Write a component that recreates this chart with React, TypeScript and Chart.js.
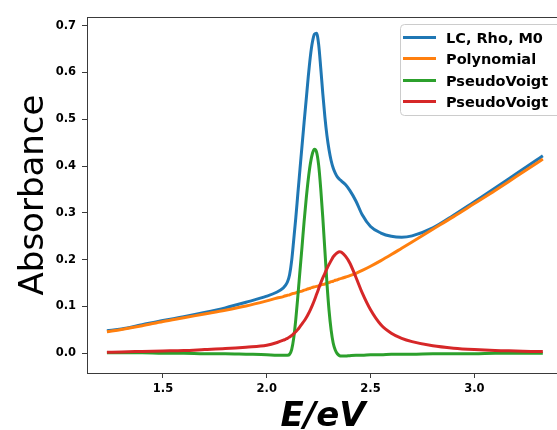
import { useEffect, useRef } from "react";
import { Chart, registerables } from "chart.js";
Chart.register(...registerables);

const energy = [1.23, 1.3, 1.4, 1.5, 1.6, 1.7, 1.8, 1.9, 2.0, 2.05, 2.08, 2.09,
  2.10, 2.11, 2.12, 2.13, 2.14, 2.15, 2.16, 2.17, 2.18, 2.19, 2.20, 2.21, 2.22, 2.23, 2.24, 2.25, 2.26, 2.27, 2.28, 2.29, 2.30, 2.31, 2.32, 2.33, 2.34, 2.35, 2.36,
  2.38, 2.40, 2.43, 2.46, 2.50, 2.55, 2.60, 2.65, 2.70,
  2.80, 2.90, 3.0, 3.1, 3.2, 3.3, 3.33];

const totalFit = [0.048, 0.052, 0.061, 0.070, 0.078, 0.087, 0.097, 0.109, 0.122, 0.131, 0.140, 0.145,
  0.153, 0.168, 0.198, 0.243, 0.290, 0.342, 0.393, 0.444, 0.494, 0.542, 0.591, 0.634, 0.665, 0.682, 0.684, 0.660, 0.610, 0.555, 0.505, 0.465, 0.435, 0.412, 0.396, 0.385, 0.377, 0.372, 0.368,
  0.360, 0.348, 0.325, 0.296, 0.271, 0.257, 0.250, 0.248, 0.251,
  0.268, 0.295, 0.324, 0.353, 0.383, 0.413, 0.422];

const polynomial = [0.046, 0.051, 0.059, 0.068, 0.076, 0.084, 0.092, 0.101, 0.112, 0.118, 0.121, 0.123,
  0.124, 0.125, 0.127, 0.128, 0.129, 0.131, 0.132, 0.133, 0.135, 0.136, 0.138, 0.139, 0.141, 0.142, 0.143, 0.144, 0.146, 0.147, 0.148, 0.150, 0.151, 0.153, 0.154, 0.156, 0.157, 0.159, 0.160,
  0.163, 0.166, 0.171, 0.177, 0.186, 0.198, 0.211, 0.2245, 0.238,
  0.265, 0.292, 0.320, 0.348, 0.377, 0.406, 0.415];

const pseudoVoigtA = [0.001, 0.001, 0.001, 0.000, 0.000, -0.001, -0.001, -0.002, -0.003, -0.004, -0.004, -0.004,
  -0.004, -0.002, 0.008, 0.033, 0.073, 0.123, 0.176, 0.228, 0.282, 0.330, 0.372, 0.405, 0.427, 0.436, 0.430, 0.402, 0.352, 0.290, 0.220, 0.150, 0.092, 0.050, 0.022, 0.007, -0.001, -0.005, -0.006,
  -0.006, -0.005, -0.004, -0.004, -0.003, -0.003, -0.002, -0.002, -0.002,
  -0.001, -0.001, -0.001, 0.000, 0.000, 0.000, 0.000];

const pseudoVoigtB = [0.002, 0.003, 0.004, 0.005, 0.006, 0.008, 0.010, 0.013, 0.017, 0.023, 0.028, 0.030,
  0.032, 0.035, 0.038, 0.042, 0.046, 0.051, 0.057, 0.063, 0.069, 0.076, 0.084, 0.093, 0.103, 0.114, 0.126, 0.138, 0.150, 0.161, 0.171, 0.181, 0.190, 0.198, 0.206, 0.211, 0.215, 0.217, 0.216,
  0.207, 0.193, 0.162, 0.129, 0.093, 0.061, 0.043, 0.032, 0.025,
  0.016, 0.011, 0.008, 0.006, 0.005, 0.004, 0.004];

const seriesValues = [totalFit, polynomial, pseudoVoigtA, pseudoVoigtB];
const seriesLabels = ["LC, Rho, M0", "Polynomial", "PseudoVoigt", "PseudoVoigt"];
const seriesColors = ["#1f77b4", "#ff7f0e", "#2ca02c", "#d62728"];

const xTicks = [1.5, 2.0, 2.5, 3.0];
const yTicks = [0.0, 0.1, 0.2, 0.3, 0.4, 0.5, 0.6, 0.7];
const xTitle = "E/eV";
const yTitle = "Absorbance";

const FONT = '"DejaVu Sans", "Liberation Sans", sans-serif';
const CANVAS_W = 575;
const CANVAS_H = 430;

export default function App() {
  const ref = useRef<HTMLCanvasElement | null>(null);

  useEffect(() => {
    const canvas = ref.current;
    if (!canvas) return;

    const decor = {
      id: "decor",
      afterDatasetsDraw(chart: any) {
        const { ctx, chartArea } = chart;
        ctx.save();
        ctx.strokeStyle = "#3a3a3a";
        ctx.lineWidth = 1;
        ctx.strokeRect(chartArea.left + 0.5, chartArea.top + 0.5, chartArea.right - chartArea.left, chartArea.bottom - chartArea.top);
        ctx.restore();
      },
      afterDraw(chart: any) {
        const { ctx, chartArea } = chart;
        ctx.save();
        // axis titles
        ctx.fillStyle = "#000";
        ctx.font = `italic bold 34px ${FONT}`;
        ctx.textAlign = "center";
        ctx.textBaseline = "alphabetic";
        ctx.fillText(xTitle, 323, 426);
        ctx.save();
        ctx.translate(43, (chartArea.top + chartArea.bottom) / 2);
        ctx.rotate(-Math.PI / 2);
        ctx.font = `34px ${FONT}`;
        ctx.fillText(yTitle, 0, 0);
        ctx.restore();

        // legend
        const bx = 400.5, by = 24.5, bw = 162, bh = 91, r = 4;
        ctx.beginPath();
        ctx.moveTo(bx + r, by);
        ctx.lineTo(bx + bw - r, by);
        ctx.quadraticCurveTo(bx + bw, by, bx + bw, by + r);
        ctx.lineTo(bx + bw, by + bh - r);
        ctx.quadraticCurveTo(bx + bw, by + bh, bx + bw - r, by + bh);
        ctx.lineTo(bx + r, by + bh);
        ctx.quadraticCurveTo(bx, by + bh, bx, by + bh - r);
        ctx.lineTo(bx, by + r);
        ctx.quadraticCurveTo(bx, by, bx + r, by);
        ctx.closePath();
        ctx.fillStyle = "rgba(255,255,255,0.85)";
        ctx.fill();
        ctx.strokeStyle = "#cccccc";
        ctx.lineWidth = 1;
        ctx.stroke();

        ctx.font = `bold 14.5px ${FONT}`;
        ctx.textAlign = "left";
        seriesLabels.forEach((label, i) => {
          const y = Math.round(36.7 + i * 21.4) + 0.5;
          ctx.strokeStyle = seriesColors[i];
          ctx.lineWidth = 3;
          ctx.beginPath();
          ctx.moveTo(403, y);
          ctx.lineTo(436, y);
          ctx.stroke();
          ctx.fillStyle = "#000";
          ctx.fillText(label, 446, y + 5);
        });
        ctx.restore();
      },
    };

    const chart = new Chart(canvas, {
      type: "line",
      data: {
        datasets: seriesValues.map((vals, i) => ({
          label: seriesLabels[i],
          data: energy.map((e, j) => ({ x: e, y: vals[j] })),
          borderColor: seriesColors[i],
          backgroundColor: seriesColors[i],
          borderWidth: 3,
          pointRadius: 0,
          fill: false,
          cubicInterpolationMode: "monotone" as const,
          order: seriesValues.length - i,
        })),
      },
      options: {
        responsive: false,
        animation: false,
        events: [],
        layout: { padding: { left: 0, top: 17, right: CANVAS_W - 564, bottom: 0 } },
        plugins: { legend: { display: false }, tooltip: { enabled: false } },
        scales: {
          x: {
            type: "linear",
            min: 1.134,
            max: 3.432,
            afterBuildTicks: (s: any) => { s.ticks = xTicks.map((v) => ({ value: v })); },
            afterFit: (s: any) => { s.height = CANVAS_H - 373; },
            ticks: {
              autoSkip: false,
              maxRotation: 0,
              padding: 4,
              color: "#000",
              font: { family: FONT, size: 11.5, weight: "bold" },
              callback: (v: any) => Number(v).toFixed(1),
            },
            grid: { drawOnChartArea: false, drawTicks: true, tickLength: 5, color: "#3a3a3a", lineWidth: 1 },
            border: { display: false },
          },
          y: {
            type: "linear",
            min: -0.0421,
            max: 0.7186,
            afterBuildTicks: (s: any) => { s.ticks = yTicks.map((v) => ({ value: v })); },
            afterFit: (s: any) => { s.width = 87; },
            ticks: {
              autoSkip: false,
              padding: 6,
              color: "#000",
              font: { family: FONT, size: 11.5, weight: "bold" },
              callback: (v: any) => Number(v).toFixed(1),
            },
            grid: { drawOnChartArea: false, drawTicks: true, tickLength: 5, color: "#3a3a3a", lineWidth: 1 },
            border: { display: false },
          },
        },
      },
      plugins: [decor],
    });

    return () => chart.destroy();
  }, []);

  return (
    <div style={{ position: "fixed", left: 0, top: 0, width: 557, height: 430, overflow: "hidden", background: "#fff" }}>
      <canvas ref={ref} width={CANVAS_W} height={CANVAS_H} style={{ display: "block", width: CANVAS_W, height: CANVAS_H }} />
    </div>
  );
}
